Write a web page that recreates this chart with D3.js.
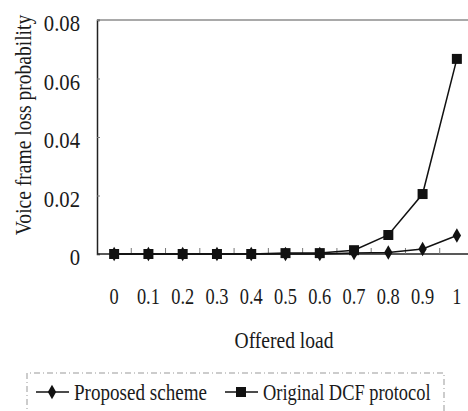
<!DOCTYPE html>
<html><head><meta charset="utf-8">
<script src="https://cdn.jsdelivr.net/npm/d3@7"></script>
<style>body{margin:0;background:#fff}svg{display:block}text{font-family:"Liberation Serif","Times New Roman",serif;fill:#1a1a1a}</style>
</head><body>
<script>
const categories = ["0","0.1","0.2","0.3","0.4","0.5","0.6","0.7","0.8","0.9","1"];
const proposed = [0,0,0,0,0,0,0,0.0003,0.0005,0.0017,0.0063];
const original = [0,0,0,0,0,0.0003,0.0003,0.0013,0.0065,0.0205,0.0667];
const yTicks = [0,0.02,0.04,0.06,0.08];
const seriesNames = ["Proposed scheme","Original DCF protocol"];

(function(){
const W=468,H=411;
const svg=d3.select("body").append("svg").attr("width",W).attr("height",H);
const pL=97, pR=474, pT=20, pB=254;
const x=d3.scaleBand().domain(categories).range([pL,pR]);
const y=d3.scaleLinear().domain([0,0.08]).range([pB,pT]);
const cx=d=>x(d)+x.bandwidth()/2;

svg.append("line").attr("x1",pL).attr("x2",pR).attr("y1",pT).attr("y2",pT).attr("stroke","#555").attr("stroke-width",1.2);
const ya=svg.append("g").attr("transform",`translate(${pL},0)`).call(d3.axisRight(y).tickValues(yTicks).tickSize(3).tickFormat(""));
ya.select(".domain").attr("stroke","#222").attr("stroke-width",1.5);
ya.selectAll(".tick line").attr("stroke","#777");
svg.append("g").selectAll("text").data(yTicks).join("text")
  .attr("transform",d=>`translate(${pL-17},${y(d)+3}) scale(0.9,1)`).attr("dy","0.35em").attr("text-anchor","end")
  .style("font-size","23px").text(d=>d===0?"0":d.toFixed(2));
svg.append("line").attr("x1",pL).attr("x2",pR).attr("y1",pB).attr("y2",pB).attr("stroke","#222").attr("stroke-width",1.5);
svg.append("g").selectAll("line").data(categories.slice(1)).join("line")
  .attr("x1",d=>x(d)).attr("x2",d=>x(d)).attr("y1",pB).attr("y2",pB-6).attr("stroke","#777");
svg.append("g").selectAll("text").data(categories).join("text")
  .attr("transform",d=>`translate(${cx(d)},296) scale(0.8,1)`).attr("dy","0.35em").attr("text-anchor","middle")
  .style("font-size","23px").text(d=>d);
svg.append("text").attr("transform","translate(284,340) scale(0.85,1)").attr("dy","0.35em").attr("text-anchor","middle").style("font-size","23px").text("Offered load");
svg.append("text").attr("transform","translate(23,125) rotate(-90) scale(0.85,1)").attr("dy","0.35em").attr("text-anchor","middle").style("font-size","23px").text("Voice frame loss probability");

const line=d3.line().x((d,i)=>cx(categories[i])).y(d=>y(d));
const diamond=d3.symbol().type(d3.symbolDiamond).size(60);
const square=d3.symbol().type(d3.symbolSquare).size(100);
function drawSeries(data,sym){
  svg.append("path").datum(data).attr("d",line).attr("fill","none").attr("stroke","#111").attr("stroke-width",1.5);
  svg.append("g").selectAll("path").data(data).join("path")
    .attr("transform",(d,i)=>`translate(${cx(categories[i])},${y(d)})`).attr("d",sym).attr("fill","#111");
}
drawSeries(proposed,diamond);
drawSeries(original,square);

svg.append("path").attr("d","M27,418 V373 H444 V418").attr("fill","none").attr("stroke","#999").attr("stroke-dasharray","6,3,1,3");
const leg=[{n:seriesNames[0],s:diamond,x0:36,sx:0.83},{n:seriesNames[1],s:square,x0:225,sx:0.8}];
leg.forEach(l=>{
  svg.append("line").attr("x1",l.x0).attr("x2",l.x0+33).attr("y1",392).attr("y2",392).attr("stroke","#111").attr("stroke-width",1.5);
  svg.append("path").attr("transform",`translate(${l.x0+16},392)`).attr("d",l.s).attr("fill","#111");
  svg.append("text").attr("transform",`translate(${l.x0+38},392) scale(${l.sx},1)`).attr("dy","0.35em").style("font-size","23px").text(l.n);
});
})();
</script>
</body></html>
